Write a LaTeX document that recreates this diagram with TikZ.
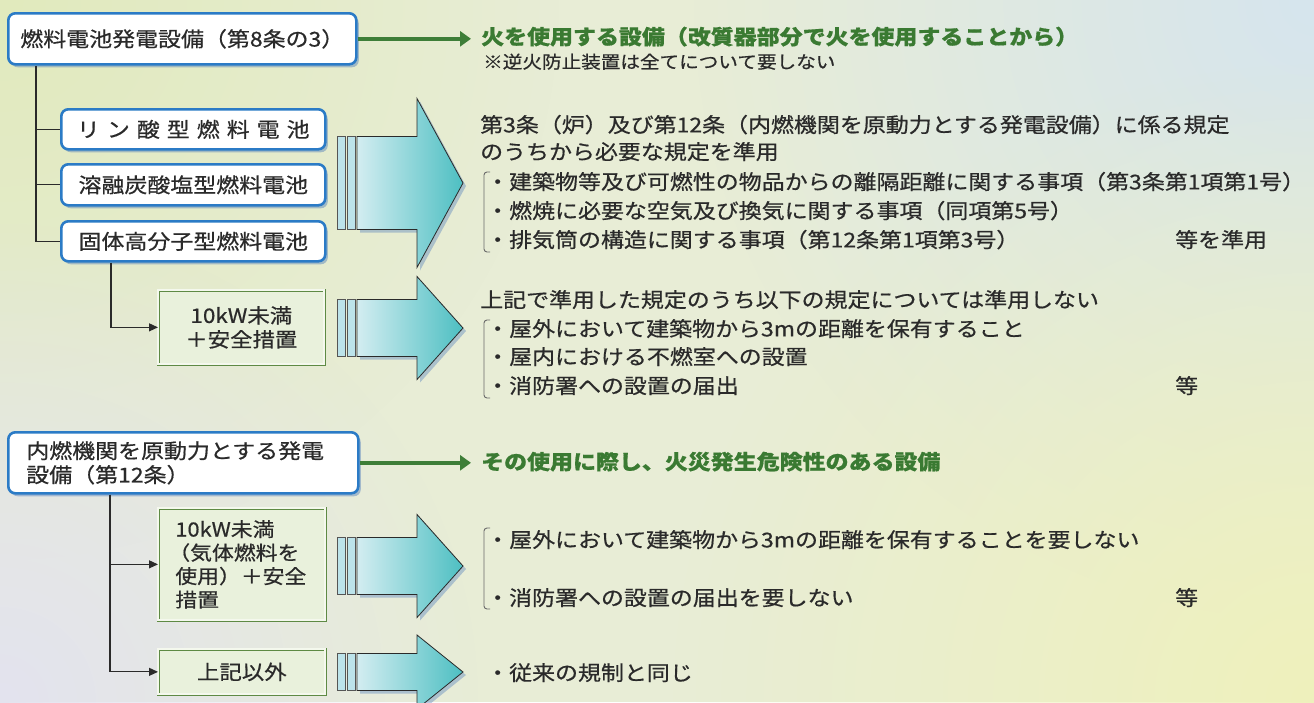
\documentclass[tikz,border=0pt]{standalone}
\usepackage{fontspec}
\setmainfont{Noto Sans CJK JP}[FakeStretch=1.12, FakeBold=0.6]
\usetikzlibrary{arrows.meta,shadows,fadings}
\definecolor{ink}{HTML}{2A2A2A}
\definecolor{boxblue}{HTML}{2B7BC6}
\definecolor{gtext}{HTML}{3A7A32}
\definecolor{garrow}{HTML}{3E7E38}
\definecolor{bxgreen}{HTML}{5E8A44}
\definecolor{bxfill}{HTML}{E9F1DC}
\definecolor{arrL}{HTML}{D3EDF1}
\definecolor{arrR}{HTML}{4DBFC2}
\definecolor{stripefill}{HTML}{BCE3EA}
\definecolor{shadowblue}{HTML}{3D6FB8}
\definecolor{bgbase}{HTML}{E8EDD6}
\definecolor{bgTL}{HTML}{E1EABD}
\definecolor{bgTR}{HTML}{D6E5EE}
\definecolor{bgBL}{HTML}{E3E3EF}
\definecolor{bgBR}{HTML}{EFF1BC}
\tikzfading[name=glow, inner color=transparent!0, outer color=transparent!100]
\newcommand\fs[1]{\fontsize{#1pt}{#1pt}\selectfont}
\newcommand\bigarrow[3]{%
  \filldraw[stripe] (337,{#1-#2}) rectangle (345,{#1+#2});
  \filldraw[stripe] (347,{#1-#2}) rectangle (355,{#1+#2});
  \path[arrbody] (357,{#1-#2}) -- (417,{#1-#2}) -- (417,{#1-#3}) -- (463,#1)
     -- (417,{#1+#3}) -- (417,{#1+#2}) -- (357,{#1+#2}) -- cycle;
}
\begin{document}
\begin{tikzpicture}[x=1pt,y=-1pt,
  txt/.style={anchor=west, inner sep=0pt, text=ink, font=\fs{20.5}, text height=16.8pt, text depth=2pt},
  gtxt/.style={txt, text=gtext, font=\fs{20.5}\bfseries},
  bluebox/.style={draw=boxblue, line width=2.6pt, rounded corners=7pt, fill=white,
     drop shadow={shadow xshift=2.5pt, shadow yshift=-3pt, fill=shadowblue, opacity=0.4},
     inner sep=0pt, text=ink, font=\fs{20.5}, anchor=north west},
  greenbox/.style={draw=bxgreen, line width=0.7pt, double=bxfill!50!white, double distance=2.2pt,
     fill=bxfill, inner sep=0pt, text=ink, anchor=north west,
     drop shadow={shadow xshift=1.5pt, shadow yshift=-1.5pt, opacity=0.2}},
  treeline/.style={draw=ink, line width=1.2pt},
  tip/.style={-{Triangle[length=9pt,width=8pt]}},
  garr/.style={draw=garrow, line width=4pt, -{Triangle[length=11pt,width=15pt]}},
  bracket/.style={draw=ink!70, line width=0.9pt, rounded corners=3pt},
  stripe/.style={fill=stripefill, draw=ink!80, line width=0.6pt},
  arrbody/.style={left color=arrL, right color=arrR, draw=ink, line width=0.8pt,
     drop shadow={shadow xshift=3pt, shadow yshift=-3pt, fill=shadowblue, opacity=0.35}},
]
\useasboundingbox (0,0) rectangle (1314,702);
% background
\begin{scope}
\clip (0,0) rectangle (1314,702);
\fill[bgbase] (0,0) rectangle (1314,702);
\fill[bgTL, path fading=glow] (0,0) circle [radius=560pt];
\fill[bgTR, path fading=glow] (1314,0) circle [radius=620pt];
\fill[bgBL, path fading=glow] (0,702) circle [radius=480pt];
\fill[bgBR, path fading=glow] (1314,702) circle [radius=640pt];
\end{scope}

% big arrows
\bigarrow{183}{46.5}{84.5}
\bigarrow{328}{28.5}{51.5}
\bigarrow{566}{28.5}{51.5}
\bigarrow{672}{18.5}{37}

% upper part
\node[bluebox, minimum width=348pt, minimum height=51pt] (A) at (7,12) {燃料電池発電設備（第8条の3）};
\node[bluebox, minimum width=264pt, minimum height=40pt] (B1) at (60,108)
  {リ\hspace{7pt}ン\hspace{7pt}酸\hspace{7pt}型\hspace{7pt}燃\hspace{7pt}料\hspace{7pt}電\hspace{7pt}池};
\node[bluebox, minimum width=264pt, minimum height=41pt] (B2) at (60,163) {溶融炭酸塩型燃料電池};
\node[bluebox, minimum width=264pt, minimum height=40pt] (B3) at (60,220) {固体高分子型燃料電池};
\node[greenbox, minimum width=166pt, minimum height=74pt, align=center,
  font={\fontsize{20pt}{24pt}\selectfont}] (C) at (158,290) {10kW未満\\＋安全措置};

\node[gtxt] (G1) at (481,37) {火を使用する設備（改質器部分で火を使用することから）};
\node[txt, font=\fs{17.5}, text height=14.4pt, text depth=1.7pt] (N1) at (483,62) {※逆火防止装置は全てについて要しない};

\draw[garr] (A.east) -- ([xshift=-10pt]G1.west |- A.east);
\draw[treeline] ([xshift=29pt]A.south west) |- (B3.west);
\draw[treeline] ([xshift=29pt]A.south west |- B1.west) -- (B1.west);
\draw[treeline] ([xshift=29pt]A.south west |- B2.west) -- (B2.west);
\draw[treeline, tip] ([xshift=51pt]B3.south west) |- (C.west);

% text block 1
\node[txt] (T1) at (480,125) {第3条（炉）及び第12条（内燃機関を原動力とする発電設備）に係る規定};
\node[txt] (T2) at (480,152) {のうちから必要な規定を準用};
\node[txt] (T3) at (486,182) {・建築物等及び可燃性の物品からの離隔距離に関する事項（第3条第1項第1号）};
\node[txt] (T4) at (486,211) {・燃焼に必要な空気及び換気に関する事項（同項第5号）};
\node[txt] (T5) at (486,240) {・排気筒の構造に関する事項（第12条第1項第3号）};
\node[txt] (T6) at (1175,240) {等を準用};
\draw[bracket] (490,172) -- (484,172) -- (484,252) -- (490,252);

% text block 2
\node[txt] (U1) at (480,300) {上記で準用した規定のうち以下の規定については準用しない};
\node[txt] (U2) at (486,329) {・屋外において建築物から3mの距離を保有すること};
\node[txt] (U3) at (486,357) {・屋内における不燃室への設置};
\node[txt] (U4) at (486,386) {・消防署への設置の届出};
\node[txt] (U5) at (1175,386) {等};
\draw[bracket] (490,320) -- (484,320) -- (484,398) -- (490,398);

% lower part
\node[bluebox, minimum width=350pt, minimum height=61pt, inner xsep=18pt, text width=314pt,
  align=left, font={\fontsize{20.5pt}{24pt}\selectfont}] (D) at (7,431)
  {内燃機関を原動力とする発電\\設備（第12条）};
\node[greenbox, minimum width=167pt, minimum height=112pt, inner xsep=14pt, text width=139pt,
  align=left, font={\fontsize{19.5pt}{23.5pt}\selectfont}] (E) at (158,508)
  {\hspace*{3pt}10kW未満\\[-0pt]\hspace*{-4pt}（気体燃料を\\\hspace*{3pt}使用）＋安全\\\hspace*{3pt}措置};
\node[greenbox, minimum width=167pt, minimum height=45pt, font=\fs{20}] (F) at (158,649) {上記以外};

\node[gtxt] (G2) at (481,462) {その使用に際し、火災発生危険性のある設備};
\draw[garr] (D.east) -- ([xshift=-10pt]G2.west |- D.east);
\draw[treeline, tip] ([xshift=103pt]D.south west) |- (E.west);
\draw[treeline, tip] ([xshift=103pt]D.south west) |- (F.west);

\node[txt] (V1) at (486,540) {・屋外において建築物から3mの距離を保有することを要しない};
\node[txt] (V2) at (486,598) {・消防署への設置の届出を要しない};
\node[txt] (V3) at (1175,598) {等};
\draw[bracket] (490,528) -- (484,528) -- (484,609) -- (490,609);
\node[txt] (W1) at (486,673) {・従来の規制と同じ};
\end{tikzpicture}
\end{document}
